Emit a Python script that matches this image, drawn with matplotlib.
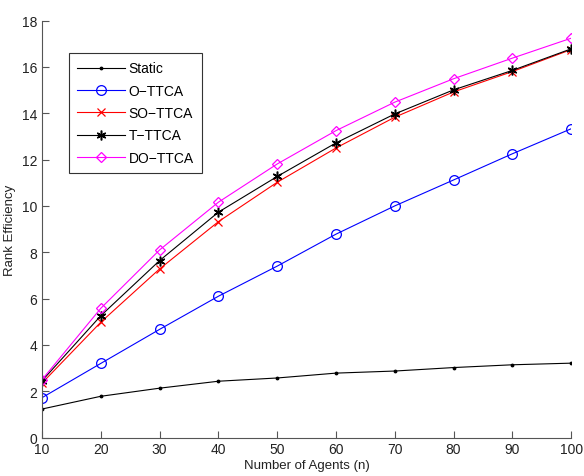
import matplotlib.pyplot as plt

plt.rcParams['font.family'] = ['Liberation Sans', 'DejaVu Sans']

# agents on x axis
n_agents = [10, 20, 30, 40, 50, 60, 70, 80, 90, 100]

# rank efficiency
static = [1.23, 1.78, 2.13, 2.43, 2.57, 2.78, 2.87, 3.02, 3.14, 3.21]
o_ttca = [1.72, 3.2, 4.67, 6.1, 7.4, 8.78, 10.0, 11.12, 12.25, 13.33]
so_ttca = [2.35, 4.98, 7.28, 9.32, 11.02, 12.5, 13.83, 14.92, 15.8, 16.75]
t_ttca = [2.45, 5.26, 7.64, 9.73, 11.27, 12.72, 13.97, 15.01, 15.85, 16.78]
do_ttca = [2.5, 5.58, 8.1, 10.16, 11.81, 13.25, 14.48, 15.49, 16.38, 17.24]

fig = plt.figure(figsize=(5.84, 4.77), dpi=100)
ax = fig.add_axes([0.072, 0.0807, 0.906, 0.874])

lw = 0.8
ax.plot(n_agents, static, color='black', marker='.', markersize=3.5, lw=lw, label='Static')
ax.plot(n_agents, o_ttca, color='blue', marker='o', markersize=7, mfc='none', mew=0.9, lw=lw, label='O\u2212TTCA')
ax.plot(n_agents, so_ttca, color='red', marker='x', markersize=6, mew=0.9, lw=lw, label='SO\u2212TTCA')
ax.plot(n_agents, t_ttca, color='black', marker=(6, 2, 0), markersize=7, mew=1.1, lw=lw, label='T\u2212TTCA')
ax.plot(n_agents, do_ttca, color='magenta', marker='D', markersize=5.5, mfc='none', mew=0.9, lw=lw, label='DO\u2212TTCA')

ax.set_xlim(10, 100)
ax.set_ylim(0, 18)
ax.set_xticks(range(10, 101, 10))
ax.set_yticks(range(0, 19, 2))

ax.spines['top'].set_visible(False)
ax.spines['right'].set_visible(False)
for s in ['left', 'bottom']:
    ax.spines[s].set_color('#555555')
ax.tick_params(direction='in', length=5, colors='#555555', labelcolor='#222222', labelsize=10)

ax.set_xlabel('Number of Agents (n)', fontsize=9.5, color='#222222', labelpad=2)
ax.set_ylabel('Rank Efficiency', fontsize=9.5, color='#222222', labelpad=4)

leg = ax.legend(loc='upper left', bbox_to_anchor=(0.051, 0.922), borderaxespad=0,
                fontsize=10, handlelength=3.4, handletextpad=0.3, fancybox=False, framealpha=1,
                edgecolor='#333333', labelspacing=0.6, borderpad=0.6)
leg.get_frame().set_linewidth(0.8)

fig.savefig('out.png', dpi=100)
